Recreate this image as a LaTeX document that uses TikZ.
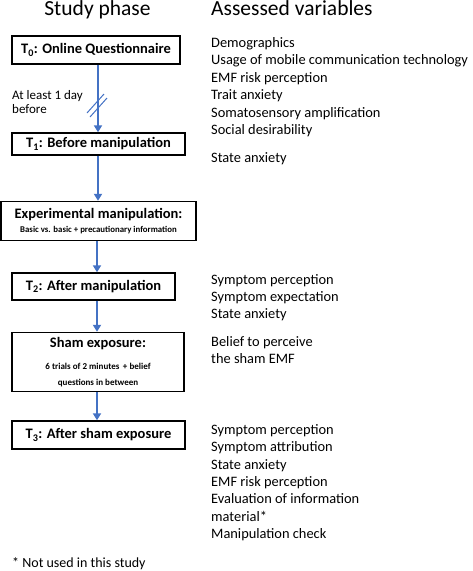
\documentclass[tikz,border=0pt]{standalone}
\usepackage{fontspec}
\setmainfont{Carlito}
\usetikzlibrary{arrows.meta}
\definecolor{arrowblue}{HTML}{4472C4}
\tikzset{
  phasebox/.style={draw=black, line width=1.4pt, inner sep=0pt, align=center, font=\fontsize{14.5}{16}\selectfont\bfseries},
  flow/.style={draw=arrowblue, line width=2pt, -{Triangle[width=8pt,length=7pt]}},
  slash/.style={draw=arrowblue, line width=1pt},
  vartext/.style={anchor=base west, inner sep=0pt, font=\fontsize{14.4}{16}\selectfont},
  sidetext/.style={anchor=base west, inner sep=0pt, font=\fontsize{13}{15}\selectfont},
  title/.style={anchor=base, inner sep=0pt, font=\fontsize{21.5}{24}\selectfont},
}
\begin{document}
\begin{tikzpicture}[x=1pt,y=-1pt]
\useasboundingbox (0,0) rectangle (473,571);
\node[title] (h1) at (97.5,15.5) {Study phase};
\node[title, anchor=base west] (h2) at (211,15.5) {Assessed variables};

\node[phasebox, minimum width=168pt, minimum height=28pt] (T0) at (96,50) {T\textsubscript{0}: Online Questionnaire};
\node[phasebox, minimum width=173pt, minimum height=22pt] (T1) at (98.5,144) {T\textsubscript{1}: Before manipulation};
\node[phasebox, minimum width=195pt, minimum height=39pt] (EX) at (98.5,221) {Experimental manipulation:\\[-2pt]{\fontsize{8.8}{10}\selectfont Basic vs. basic + precautionary information}};
\node[phasebox, minimum width=163pt, minimum height=27pt] (T2) at (93.5,286.5) {T\textsubscript{2}: After manipulation};
\node[phasebox, minimum width=172pt, minimum height=59pt] (SH) at (98,362) {Sham exposure:\\[6pt]{\fontsize{9}{13}\selectfont 6 trials of 2 minutes \,+ belief}\\{\fontsize{9}{13}\selectfont questions in between}};
\node[phasebox, minimum width=173pt, minimum height=28pt] (T3) at (98.5,435) {T\textsubscript{3}: After sham exposure};

\coordinate (ax) at (98,0);
\coordinate (bx) at (97,0);
\draw[flow] (T0.south -| ax) -- (T1.north -| ax);
\draw[flow] (T1.south -| ax) -- (EX.north -| ax);
\draw[flow] (EX.south -| bx) -- (T2.north -| bx);
\draw[flow] (T2.south -| bx) -- (SH.north -| bx);
\draw[flow] (SH.south -| bx) -- (T3.north -| bx);

\coordinate (s1a) at (87,113);
\coordinate (s1b) at (104,94);
\coordinate (s2a) at (90,117);
\coordinate (s2b) at (107,98);
\draw[slash] (s1a) -- (s1b);
\draw[slash] (s2a) -- (s2b);

\node[sidetext] (gap) at (12,99) {At least 1 day};
\node[sidetext] (gap2) at (12,113) {before};

\node[vartext] (v1) at (211,47) {Demographics};
\node[vartext] (v2) at (211,64.5) {Usage of mobile communication technology};
\node[vartext] (v3) at (211,82) {EMF risk perception};
\node[vartext] (v4) at (211,99.5) {Trait anxiety};
\node[vartext] (v5) at (211,117) {Somatosensory amplification};
\node[vartext] (v6) at (211,134) {Social desirability};
\node[vartext] (v7) at (211,162) {State anxiety};

\node[vartext] (w1) at (211,284) {Symptom perception};
\node[vartext] (w2) at (211,301) {Symptom expectation};
\node[vartext] (w3) at (211,318) {State anxiety};
\node[vartext] (w4) at (211,346) {Belief to perceive};
\node[vartext] (w5) at (211,363) {the sham EMF};

\node[vartext] (u1) at (211,434) {Symptom perception};
\node[vartext] (u2) at (211,451.5) {Symptom attribution};
\node[vartext] (u3) at (211,469) {State anxiety};
\node[vartext] (u4) at (211,486) {EMF risk perception};
\node[vartext] (u5) at (211,503.5) {Evaluation of information};
\node[vartext] (u6) at (211,521) {material*};
\node[vartext] (u7) at (211,538.5) {Manipulation check};

\node[vartext, font=\fontsize{14}{16}\selectfont] (fn) at (12,567) {* Not used in this study};
\end{tikzpicture}
\end{document}
